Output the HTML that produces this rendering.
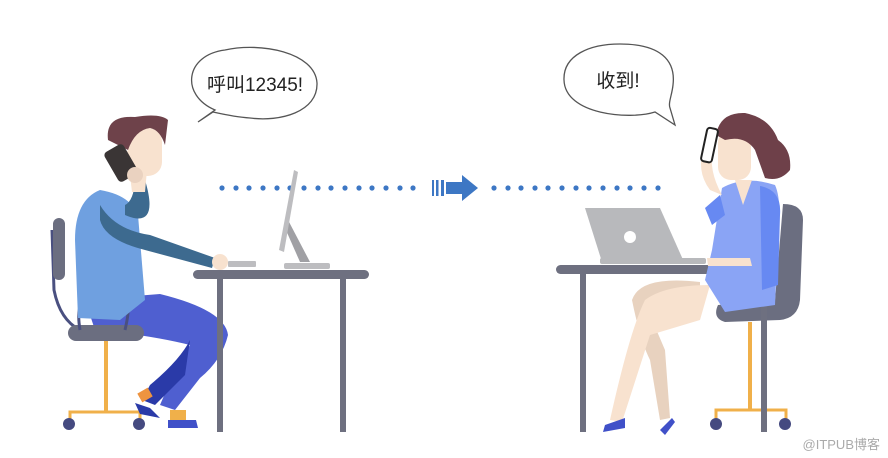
<!DOCTYPE html>
<html><head><meta charset="utf-8"><style>
html,body{margin:0;padding:0;background:#fff;}
svg{display:block;}
</style></head><body>
<svg width="888" height="458" viewBox="0 0 888 458" xmlns="http://www.w3.org/2000/svg">
<!-- bubbles -->
<path d="M215,110 C180,95 185,55 225,50 C260,42 315,52 317,83 C318,112 280,122 250,118 C235,117 222,114 213,112 L198,122 Z" fill="#fff" stroke="#555" stroke-width="1.3"/>
<text x="255" y="91" font-family="Liberation Sans,'Noto Sans CJK SC',sans-serif" font-size="19" text-anchor="middle" fill="#222">呼叫12345!</text>
<path d="M655,112 C630,120 565,115 564,80 C563,55 590,44 620,44 C660,44 676,60 673,85 C672,95 668,103 670,108 L675,125 Z" fill="#fff" stroke="#555" stroke-width="1.3"/>
<text x="618" y="87" font-family="Liberation Sans,'Noto Sans CJK SC',sans-serif" font-size="19" text-anchor="middle" fill="#222">收到!</text>
<!-- dots -->
<g fill="#3d77c4">
<circle cx="222" cy="188" r="2.6"/><circle cx="236" cy="188" r="2.6"/><circle cx="249" cy="188" r="2.6"/><circle cx="263" cy="188" r="2.6"/><circle cx="277" cy="188" r="2.6"/><circle cx="290" cy="188" r="2.6"/><circle cx="304" cy="188" r="2.6"/><circle cx="318" cy="188" r="2.6"/><circle cx="331" cy="188" r="2.6"/><circle cx="345" cy="188" r="2.6"/><circle cx="359" cy="188" r="2.6"/><circle cx="372" cy="188" r="2.6"/><circle cx="386" cy="188" r="2.6"/><circle cx="400" cy="188" r="2.6"/><circle cx="413" cy="188" r="2.6"/>
<circle cx="494" cy="188" r="2.6"/><circle cx="508" cy="188" r="2.6"/><circle cx="521" cy="188" r="2.6"/><circle cx="535" cy="188" r="2.6"/><circle cx="548" cy="188" r="2.6"/><circle cx="562" cy="188" r="2.6"/><circle cx="576" cy="188" r="2.6"/><circle cx="589" cy="188" r="2.6"/><circle cx="603" cy="188" r="2.6"/><circle cx="617" cy="188" r="2.6"/><circle cx="630" cy="188" r="2.6"/><circle cx="644" cy="188" r="2.6"/><circle cx="658" cy="188" r="2.6"/>
<rect x="432" y="180" width="2" height="16"/><rect x="436" y="180" width="2.5" height="16"/><rect x="441" y="180" width="3" height="16"/>
<path d="M446,182 L462,182 L462,175 L478,188 L462,201 L462,194 L446,194 Z"/>
</g>
<!-- MAN -->
<!-- chair -->
<path d="M52,230 L54,290 Q60,320 80,330" fill="none" stroke="#4a5080" stroke-width="3"/>
<rect x="53" y="218" width="12" height="62" rx="6" fill="#6b6e80"/>
<rect x="104" y="340" width="4" height="72" fill="#f0b04a"/>
<path d="M70,420 L70,412 L140,412 L140,420" fill="none" stroke="#f0b04a" stroke-width="3"/>
<circle cx="69" cy="424" r="6" fill="#454a80"/><circle cx="139" cy="424" r="6" fill="#454a80"/>
<!-- legs -->
<path d="M85,300 L160,294 Q225,310 228,335 Q222,360 200,378 L175,410 L160,405 L175,370 L190,345 Q150,335 95,330 Z" fill="#4f5fd0"/>
<path d="M190,340 Q180,360 150,385 L142,400 L155,405 L185,375 Z" fill="#2a3aa8"/>
<rect x="139" y="390" width="12" height="10" fill="#ee9440" transform="rotate(-30 145 395)"/>
<path d="M135,403 L150,408 L160,418 L140,414 Z" fill="#2a3aa8"/>
<rect x="170" y="410" width="16" height="10" fill="#f0b04a"/>
<path d="M168,420 L196,420 L198,428 L168,428 Z" fill="#4050c8"/>
<!-- seat -->
<rect x="68" y="325" width="76" height="16" rx="8" fill="#6b6e80"/>
<path d="M80,330 Q75,300 90,297 L125,297 Q132,300 125,330" fill="none" stroke="#4a5080" stroke-width="3"/>
<!-- torso -->
<path d="M100,190 Q75,200 75,240 L78,318 L120,320 L145,300 L138,215 Q130,195 100,190 Z" fill="#6fa0e0"/>
<!-- arm -->
<path d="M100,205 Q115,230 150,235 L215,258 L212,268 L145,250 Q105,240 100,220 Z" fill="#3d6a8f"/>
<path d="M125,215 Q160,230 145,180 L135,175 Q135,200 125,205 Z" fill="#3d6a8f"/>
<circle cx="220" cy="262" r="8" fill="#f8e2cf"/>
<!-- head -->
<path d="M127,150 L132,192 L145,192 L147,170 Z" fill="#f8e2cf"/>
<rect x="128" y="128" width="34" height="48" rx="14" fill="#f8e2cf"/>
<path d="M108,140 Q105,115 135,117 Q160,113 168,120 L165,145 Q160,130 150,128 Q135,130 128,150 Z" fill="#6e424a"/>
<rect x="110" y="146" width="22" height="34" rx="4" transform="rotate(-30 121 163)" fill="#3a3535"/>
<circle cx="135" cy="175" r="8" fill="#ead2c0"/>
<!-- desk -->
<rect x="217" y="277" width="6" height="155" fill="#6e7080"/>
<rect x="340" y="277" width="6" height="155" fill="#6e7080"/>
<rect x="193" y="270" width="176" height="9" rx="4.5" fill="#6e7080"/>
<!-- monitor -->
<path d="M288,220 L310,262 L300,262 L285,228 Z" fill="#a0a0a4"/>
<path d="M294,170 L298,172 L284,252 L279,250 Z" fill="#bdbdc0"/>
<rect x="284" y="263" width="46" height="6" rx="2" fill="#bdbdc0"/>
<rect x="228" y="261" width="28" height="6" rx="1" fill="#bdbdc0"/>
<!-- WOMAN -->
<!-- chair -->
<path d="M783,204 Q803,204 803,220 L800,300 Q798,318 780,320 L725,322 Q712,318 718,305 L775,300 Z" fill="#6b6e80"/>
<rect x="748" y="322" width="4" height="88" fill="#f0b04a"/>
<path d="M716,420 L716,410 L786,410 L786,420" fill="none" stroke="#f0b04a" stroke-width="3"/>
<circle cx="716" cy="424" r="6" fill="#454a80"/><circle cx="785" cy="424" r="6" fill="#454a80"/>
<!-- desk -->
<rect x="580" y="272" width="6" height="160" fill="#6e7080"/>
<rect x="761" y="272" width="6" height="160" fill="#6e7080"/>
<rect x="556" y="265" width="215" height="9" rx="4.5" fill="#6e7080"/>
<!-- legs -->
<path d="M700,282 Q640,275 632,300 Q640,340 650,360 L660,420 L670,418 L665,350 L650,315 L700,318 Z" fill="#e8d2bf"/>
<path d="M710,285 Q665,285 645,300 Q630,330 610,420 L622,422 L650,335 L700,320 Z" fill="#f8e2cf"/>
<path d="M605,425 L625,418 L625,428 L603,432 Z" fill="#4050c8"/>
<path d="M660,430 L672,418 L675,422 L665,435 Z" fill="#4050c8"/>
<!-- dress -->
<path d="M722,188 Q745,175 775,185 Q782,200 778,240 L775,305 L725,312 L705,280 L712,250 Z" fill="#8aa4f5"/>
<path d="M760,186 Q782,190 780,215 L778,285 L762,290 Z" fill="#6789f2"/>
<path d="M720,195 L705,208 L712,225 L725,215 Z" fill="#6789f2"/>
<path d="M735,180 L743,205 L752,180 Z" fill="#f8e2cf"/>
<path d="M710,190 Q695,170 705,145 L713,148 Q708,170 722,195 Z" fill="#f8e2cf"/>
<path d="M707,258 L750,258 L752,266 L708,266 Z" fill="#f8e2cf"/>
<!-- head -->
<rect x="718" y="130" width="33" height="50" rx="13" fill="#f8e2cf"/>
<path d="M716,135 Q720,112 745,113 Q770,118 778,140 Q792,150 790,170 Q780,182 765,178 L755,150 Q745,135 725,140 Z" fill="#6e4049"/>
<rect x="704" y="128" width="11" height="34" rx="3" transform="rotate(12 709 145)" fill="#fff" stroke="#222" stroke-width="2"/>
<!-- laptop -->
<path d="M585,208 L660,208 L684,262 L602,262 Z" fill="#b8b9bc"/>
<circle cx="630" cy="237" r="6" fill="#fff"/>
<rect x="600" y="258" width="106" height="6" rx="2" fill="#b8b9bc"/>
<text x="880" y="449" font-family="Liberation Sans,'Noto Sans CJK SC',sans-serif" font-size="13" text-anchor="end" fill="#aaa">@ITPUB博客</text>
</svg>
</body></html>
